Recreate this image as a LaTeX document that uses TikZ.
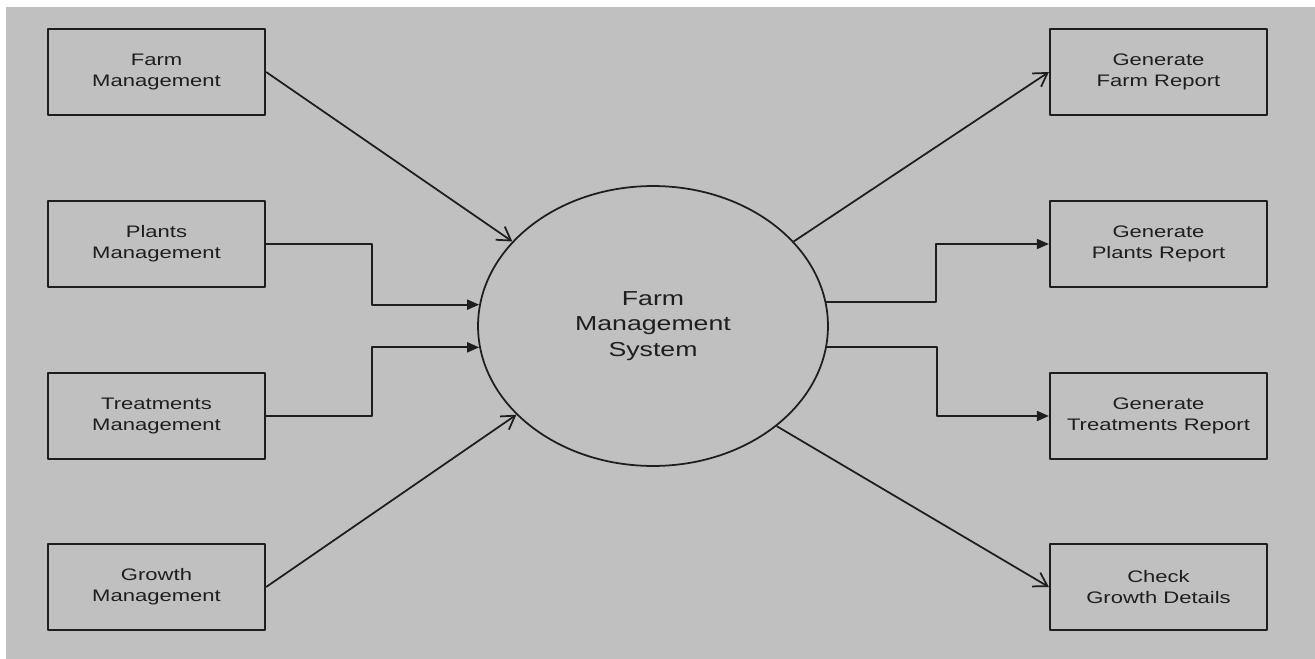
\documentclass[tikz,border=0pt]{standalone}
\usepackage{fontspec}
\setmainfont{Liberation Sans}[FakeStretch=1.32]
\usetikzlibrary{arrows.meta,shapes.geometric}
\definecolor{bgcol}{RGB}{192,192,192}
\definecolor{inkcol}{RGB}{30,30,30}
\tikzset{
	procbox/.style={draw=inkcol, line width=1.3pt, minimum width=4.34cm, minimum height=1.72cm,
		align=center, inner sep=0pt, text=inkcol, font=\fontsize{9.5}{12}\selectfont},
	sysnode/.style={ellipse, draw=inkcol, line width=1pt, minimum width=7cm, minimum height=5.6cm,
		align=center, inner sep=0pt, text=inkcol, font=\fontsize{11.5}{14.7}\selectfont},
	openarr/.style={draw=inkcol, line width=1pt, -{Straight Barb[length=2.6mm,width=3.2mm]}},
	fillarr/.style={draw=inkcol, line width=1pt, -{Triangle[length=2.4mm,width=2mm]}}
}
\begin{document}
\begin{tikzpicture}[x=0.02cm, y=-0.02cm, line join=round]
	% Nền
	\fill[white] (0,0) rectangle (1315,659);
	\fill[bgcol] (6,7) rectangle (1315,659);
	% Các khối bên trái
	\node[procbox] (fm) at (156.5,72) {Farm\\Management};
	\node[procbox] (pm) at (156.5,244) {Plants\\Management};
	\node[procbox] (tm) at (156.5,416) {Treatments\\Management};
	\node[procbox] (gm) at (156.5,587) {Growth\\Management};
	% Khối trung tâm
	\node[sysnode] (sys) at (653,326) {Farm\\Management\\System};
	% Các khối bên phải
	\node[procbox] (fr) at (1158.5,72) {Generate\\Farm Report};
	\node[procbox] (pr) at (1158.5,244) {Generate\\Plants Report};
	\node[procbox] (tr) at (1158.5,416) {Generate\\Treatments Report};
	\node[procbox] (gd) at (1158.5,587) {Check\\Growth Details};
	% Mũi tên vào
	\draw[openarr] (fm.east) -- (sys.149);
	\draw[fillarr] (pm.east) -- ++(106,0) |- (sys.173);
	\draw[fillarr] (tm.east) -- ++(106,0) |- (sys.187);
	\draw[openarr] (gm.east) -- (sys.213);
	% Mũi tên ra
	\draw[openarr] (sys.31) -- (fr.west);
	\draw[fillarr] (sys.8) -- ++(110,0) |- (pr.west);
	\draw[fillarr] (sys.-7) -- ++(110,0) |- (tr.west);
	\draw[openarr] (sys.-39) -- (gd.west);
\end{tikzpicture}
\end{document}
